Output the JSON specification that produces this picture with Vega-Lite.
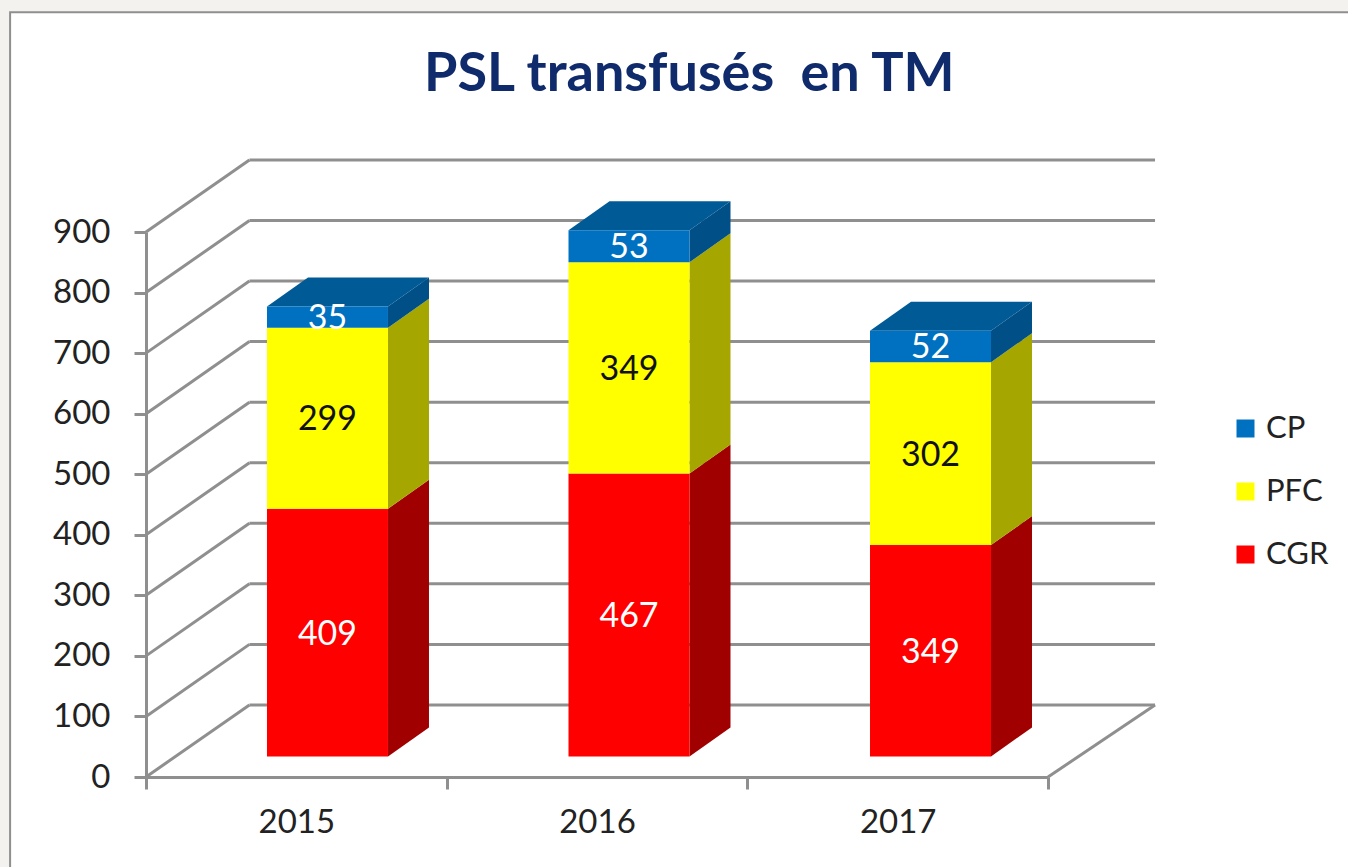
{
"$schema":"https://vega.github.io/schema/vega-lite/v6.json",
"width":902,"height":545,
"autosize":{"type":"none"},
"padding":{"left":146,"top":232,"right":300,"bottom":90},
"background":"#f4f2ee",
"config":{"view":{"stroke":null},"font":"Lato"},
"title":{"text":"PSL transfusés\u00a0 en TM","anchor":"start","frame":"group","dx":278,"offset":-91,"fontSize":54,"fontWeight":"bold","font":"Lato","color":"#0f2b6b"},
"datasets":{
"psl":[
{"year":2015,"product":"CGR","value":409},{"year":2015,"product":"PFC","value":299},{"year":2015,"product":"CP","value":35},
{"year":2016,"product":"CGR","value":467},{"year":2016,"product":"PFC","value":349},{"year":2016,"product":"CP","value":53},
{"year":2017,"product":"CGR","value":349},{"year":2017,"product":"PFC","value":302},{"year":2017,"product":"CP","value":52}],
"ticks":[{"t":0},{"t":100},{"t":200},{"t":300},{"t":400},{"t":500},{"t":600},{"t":700},{"t":800},{"t":900}],
"frame":[{"a":-0.452,"b":5,"c":-300,"d":1262.7}]
},
"encoding":{
"x":{"type":"quantitative","scale":{"domain":[0,3],"nice":false,"zero":false},"axis":{"title":null,"grid":false,"zindex":1,"values":[0,0.5,1,1.5,2,2.5,3],"labelExpr":"datum.value%1==0.5 ? ''+(floor(datum.value)+2015) : ''","tickOpacity":{"condition":{"test":"datum.value%1==0","value":1},"value":0},"tickSize":12,"tickWidth":3,"tickColor":"#8f8f8f","domainColor":"#8f8f8f","domainWidth":3,"labelFontSize":33,"labelColor":"#222222","labelPadding":17,"labelFont":"Lato","labelOverlap":false,"labelFlush":false}},
"y":{"type":"quantitative","stack":null,"scale":{"domain":[0,900],"nice":false,"zero":false},"axis":{"title":null,"grid":false,"zindex":1,"values":[0,100,200,300,400,500,600,700,800,900],"tickSize":12,"tickWidth":3,"tickColor":"#8f8f8f","domainColor":"#8f8f8f","domainWidth":3,"labelFontSize":33,"labelColor":"#222222","labelPadding":24,"labelFont":"Lato"}}
},
"layer":[
{"data":{"name":"frame"},"mark":{"type":"rect","fill":"white","stroke":"#8f8f8f","strokeWidth":2,"clip":false},
 "encoding":{"x":{"field":"a"},"x2":{"field":"b"},"y":{"field":"c"},"y2":{"field":"d"}}},
{"data":{"name":"ticks"},"transform":[{"calculate":"0","as":"x0"},{"calculate":"0.344","as":"x1"},{"calculate":"datum.t+119","as":"tb"}],
 "mark":{"type":"rule","stroke":"#8f8f8f","strokeWidth":3},
 "encoding":{"x":{"field":"x0"},"x2":{"field":"x1"},"y":{"field":"t"},"y2":{"field":"tb"}}},
{"data":{"name":"ticks"},"transform":[{"calculate":"0.344","as":"x0"},{"calculate":"3.356","as":"x1"},{"calculate":"datum.t+119","as":"tb"}],
 "mark":{"type":"rule","stroke":"#8f8f8f","strokeWidth":3},
 "encoding":{"x":{"field":"x0"},"x2":{"field":"x1"},"y":{"field":"tb"}}},
{"data":{"name":"ticks"},"transform":[{"filter":"datum.t==0"},{"calculate":"3","as":"x0"},{"calculate":"3.356","as":"x1"},{"calculate":"datum.t+119","as":"tb"}],
 "mark":{"type":"rule","stroke":"#8f8f8f","strokeWidth":3},
 "encoding":{"x":{"field":"x0"},"x2":{"field":"x1"},"y":{"field":"t"},"y2":{"field":"tb"}}},
{"data":{"name":"psl"},"transform":[
 {"calculate":"indexof(['CGR','PFC','CP'],datum.product)","as":"rank"},
 {"stack":"value","groupby":["year"],"sort":[{"field":"rank"}],"as":["y0","y1"]},
 {"calculate":"(datum.year-2015)*1.0028+0.4024+0.4024","as":"a"},
 {"calculate":"datum.a+0.1364","as":"b"},
 {"fold":["a","b"],"as":["edge","px"]},
 {"calculate":"datum.y0+34+(datum.edge=='b'?47.9:0)","as":"ylo"},
 {"calculate":"datum.y1+34+(datum.edge=='b'?47.9:0)","as":"yhi"}],
 "mark":{"type":"area","orient":"vertical"},
 "encoding":{"x":{"field":"px"},"y":{"field":"ylo"},"y2":{"field":"yhi"},"detail":{"field":"year"},
  "fill":{"field":"product","type":"nominal","legend":null,"scale":{"domain":["CGR","PFC","CP"],"range":["#a00000","#a6a600","#004f86"]}}}},
{"data":{"name":"psl"},"transform":[
 {"calculate":"indexof(['CGR','PFC','CP'],datum.product)","as":"rank"},
 {"stack":"value","groupby":["year"],"sort":[{"field":"rank"}],"as":["y0","y1"]},
 {"filter":"datum.product=='CP'"},
 {"calculate":"(datum.year-2015)*1.0028+0.4024","as":"p0"},
 {"calculate":"datum.p0+0.1364","as":"p1"},
 {"calculate":"datum.p0+0.4024","as":"p2"},
 {"calculate":"datum.p2+0.1364","as":"p3"},
 {"calculate":"datum.y1+34","as":"top"},
 {"fold":["p0","p1","p2","p3"],"as":["edge","px"]},
 {"calculate":"datum.top+(datum.edge=='p0'?0:47.9)","as":"yhi"},
 {"calculate":"datum.top+(datum.edge=='p3'?47.9:0)","as":"ylo"}],
 "mark":{"type":"area","orient":"vertical","fill":"#005a96"},
 "encoding":{"x":{"field":"px"},"y":{"field":"ylo"},"y2":{"field":"yhi"},"detail":{"field":"year"}}},
{"data":{"name":"psl"},"transform":[
 {"calculate":"indexof(['CGR','PFC','CP'],datum.product)","as":"rank"},
 {"stack":"value","groupby":["year"],"sort":[{"field":"rank"}],"as":["y0","y1"]},
 {"calculate":"(datum.year-2015)*1.0028+0.4024","as":"l"},
 {"calculate":"datum.l+0.4024","as":"r"},
 {"calculate":"datum.y0+34","as":"lo"},
 {"calculate":"datum.y1+34","as":"hi"}],
 "mark":{"type":"rect"},
 "encoding":{"x":{"field":"l"},"x2":{"field":"r"},"y":{"field":"lo"},"y2":{"field":"hi"},
  "color":{"field":"product","type":"nominal","scale":{"domain":["CP","PFC","CGR"],"range":["#0070c0","#ffff00","#ff0000"]},
   "legend":{"title":null,"orient":"none","legendX":1084,"legendY":181,"symbolType":"square","symbolSize":324,"symbolStrokeWidth":0,"labelFontSize":31,"labelColor":"#222222","labelFont":"Lato","rowPadding":31,"labelOffset":5}}}},
{"data":{"name":"psl"},"transform":[
 {"calculate":"indexof(['CGR','PFC','CP'],datum.product)","as":"rank"},
 {"stack":"value","groupby":["year"],"sort":[{"field":"rank"}],"as":["y0","y1"]},
 {"calculate":"(datum.year-2015)*1.0028+0.6036","as":"mx"},
 {"calculate":"(datum.y0+datum.y1)/2+34","as":"my"}],
 "mark":{"type":"text","fontSize":34,"font":"Lato","baseline":"middle","align":"center","dy":2},
 "encoding":{"x":{"field":"mx"},"y":{"field":"my"},"text":{"field":"value","type":"quantitative"},
  "color":{"condition":{"test":"datum.product=='PFC'","value":"#111111"},"value":"#ffffff"}}}
]
}
